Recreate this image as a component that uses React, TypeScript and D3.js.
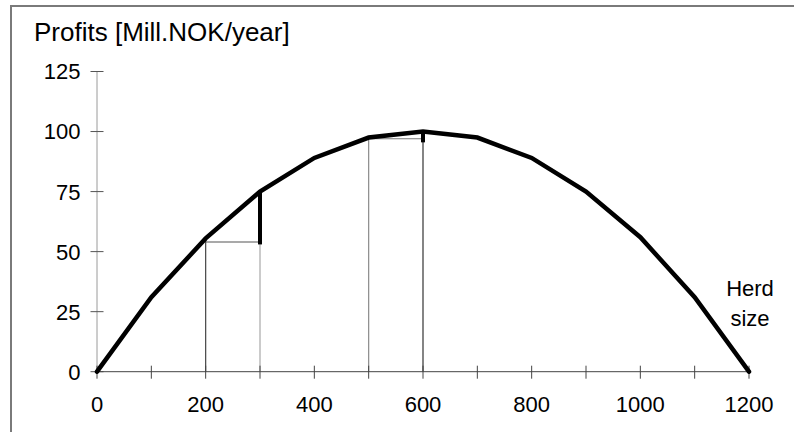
import React from "react";
import * as d3 from "d3";

const herdSizes = [0, 100, 200, 300, 400, 500, 600, 700, 800, 900, 1000, 1100, 1200];
const profits = [0, 31, 55.5, 75, 89, 97.5, 100, 97.5, 89, 75, 56, 31, 0];
const yTicks = [0, 25, 50, 75, 100, 125];
const xTicks = [0, 100, 200, 300, 400, 500, 600, 700, 800, 900, 1000, 1100, 1200];
const xLabels = [0, 200, 400, 600, 800, 1000, 1200];
// rectangles: [x0, x1, height]
const rectX0 = [200, 500];
const rectX1 = [300, 600];
const rectH = [54, 97];
// marginal gain segments: x, from, to
const gainX = [300, 600];
const gainFrom = [53, 95.5];
const gainTo = [75, 100];
const title = "Profits [Mill.NOK/year]";
const xLabelLines = ["Herd", "size"];

export default function App() {
  const W = 794;
  const H = 432;
  const x = d3.scaleLinear().domain([0, 1200]).range([97, 749]);
  const y = d3.scaleLinear().domain([0, 125]).range([371.7, 71.5]);
  const line = d3
    .line<number>()
    .x((_, i) => x(herdSizes[i]))
    .y((d) => y(d));
  const font = "Liberation Sans, Arial, sans-serif";
  return (
    <svg
      width={W}
      height={H}
      style={{ position: "absolute", left: 0, top: 0, background: "#fff" }}
    >
      <rect x={0} y={0} width={W} height={H} fill="#fff" />
      {/* frame */}
      <path d={`M11,${H + 5} L11,6 L${W + 5},6`} fill="none" stroke="#7a7a7a" strokeWidth={2} />
      {/* title */}
      <text x={34} y={41} fontFamily={font} fontSize={26} fill="#000">
        {title}
      </text>
      {/* y axis */}
      <line x1={x(0)} x2={x(0)} y1={y(0)} y2={y(125)} stroke="#9a9a9a" strokeWidth={1} />
      {yTicks.map((t) => (
        <g key={"yt" + t}>
          <line x1={x(0) - 6.5} x2={x(0) + 6.5} y1={y(t)} y2={y(t)} stroke="#555" strokeWidth={1} />
          <text
            x={80.5}
            y={y(t)}
            dy="0.36em"
            textAnchor="end"
            fontFamily={font}
            fontSize={22}
            fill="#000"
          >
            {t}
          </text>
        </g>
      ))}
      {/* rectangles */}
      {rectX0.map((x0, i) => (
        <g key={"r" + i}>
          <line x1={x(x0)} x2={x(x0)} y1={y(0)} y2={y(profits[herdSizes.indexOf(x0)])} stroke={i === 0 ? "#444" : "#8a8a8a"} strokeWidth={1.2} />
          <line x1={x(rectX1[i])} x2={x(rectX1[i])} y1={y(0)} y2={y(rectH[i])} stroke={i === 0 ? "#a8a8a8" : "#333"} strokeWidth={1.2} />
          <line x1={x(x0)} x2={x(rectX1[i])} y1={y(rectH[i])} y2={y(rectH[i])} stroke={i === 0 ? "#555" : "#777"} strokeWidth={1.2} />
        </g>
      ))}
      {/* x axis */}
      <line x1={x(0)} x2={x(1200)} y1={y(0)} y2={y(0)} stroke="#444" strokeWidth={1} />
      {xTicks.map((t) => (
        <line key={"xt" + t} x1={x(t)} x2={x(t)} y1={y(0) - 6} y2={y(0) + 7} stroke="#444" strokeWidth={1} />
      ))}
      {xLabels.map((t) => (
        <text key={"xl" + t} x={x(t)} y={412} textAnchor="middle" fontFamily={font} fontSize={22} fill="#000">
          {t}
        </text>
      ))}
      {/* gain segments */}
      {gainX.map((g, i) => (
        <line key={"g" + i} x1={x(g)} x2={x(g)} y1={y(gainFrom[i])} y2={y(gainTo[i])} stroke="#000" strokeWidth={4} />
      ))}
      {/* curve */}
      <path d={line(profits) || ""} fill="none" stroke="#000" strokeWidth={4.5} strokeLinejoin="miter" strokeLinecap="round" />
      {/* x label */}
      {xLabelLines.map((s, i) => (
        <text key={s} x={750} y={296 + i * 30} textAnchor="middle" fontFamily={font} fontSize={22} fill="#000">
          {s}
        </text>
      ))}
    </svg>
  );
}
